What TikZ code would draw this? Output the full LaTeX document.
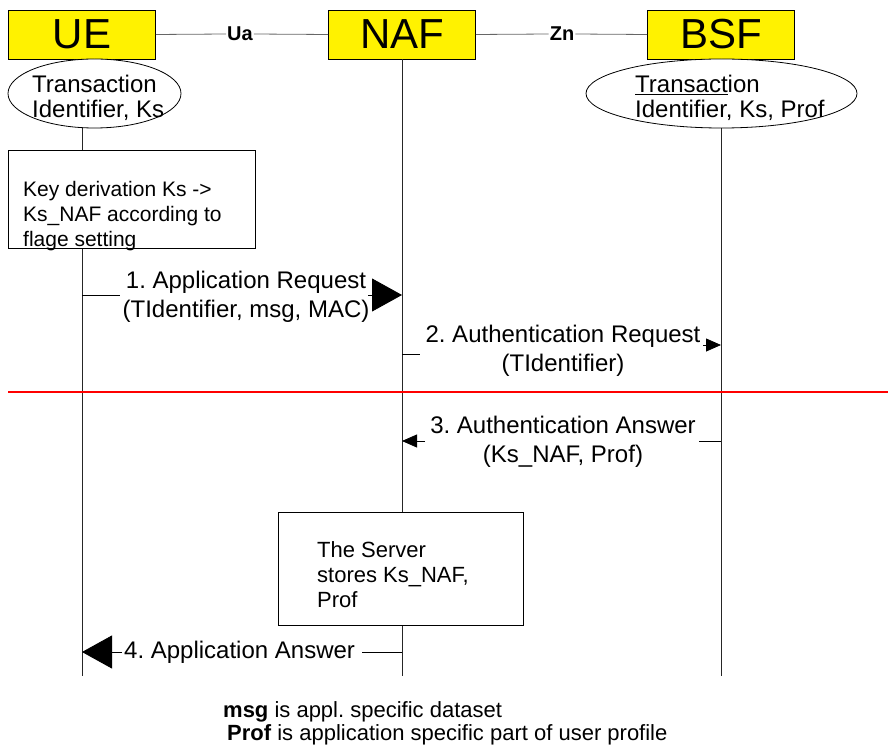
\documentclass[tikz,border=0pt]{standalone}
\usepackage{fontspec}
\setmainfont{Liberation Sans}
\usetikzlibrary{shapes.geometric,arrows.meta}
\frenchspacing
\begin{document}
\begin{tikzpicture}[x=1pt,y=-1pt,
 entity/.style={draw=black, fill=yellow, line width=0.8pt, minimum width=147pt, minimum height=49pt, inner sep=0pt, font=\fontsize{42}{42}\selectfont},
 life/.style={draw=black!85, line width=0.9pt},
 note/.style={draw=black, fill=white, line width=0.8pt},
 oval/.style={ellipse, draw=black, fill=white, line width=0.8pt, inner sep=0pt},
 txt/.style={inner sep=0pt, align=left, font=\fontsize{22}{25}\selectfont},
 ovaltxt/.style={inner sep=0pt, align=left, font=\fontsize{24}{25}\selectfont},
 msgtxt/.style={inner sep=0pt, align=center, font=\fontsize{24}{29.5}\selectfont},
 msgline/.style={draw=black, line width=0.8pt},
 bigtip/.style={-{Triangle[length=30pt,width=33pt]}},
 smalltip/.style={-{Triangle[length=15pt,width=13pt]}},
 iface/.style={inner sep=1pt, font=\bfseries\fontsize{20}{20}\selectfont},
 ifline/.style={draw=black!60, line width=0.8pt}
]
\useasboundingbox (0,0) rectangle (888,751);

% entities
\node[entity] (ue) at (82,34.5) {UE};
\node[entity] (naf) at (402,34.5) {NAF};
\node[entity] (bsf) at (721,34.5) {BSF};

% interfaces
\node[iface] (ua) at (240,34) {Ua};
\node[iface] (zn) at (562,34) {Zn};
\draw[ifline] (ue.east) -- (ua.west);
\draw[ifline] (ua.east) -- (naf.west);
\draw[ifline] (naf.east) -- (zn.west);
\draw[ifline] (zn.east) -- (bsf.west);

% lifeline ends
\coordinate (ueend) at (82,676);
\coordinate (nafend) at (402,676);
\coordinate (bsfend) at (721,676);
\draw[life] (ue.south) -- (ueend);
\draw[life] (naf.south) -- (nafend);
\draw[life] (bsf.south) -- (bsfend);

% ellipses
\node[oval, minimum width=173pt, minimum height=69pt] (uek) at (94.5,93.5) {};
\node[ovaltxt, anchor=base west] (uekt) at (32,118) {Transaction\\Identifier, Ks};
\node[oval, minimum width=271pt, minimum height=69pt] (bsfk) at (721.5,93.5) {};
\node[ovaltxt, anchor=base west] (bsfkt) at (635,118) {\underline{Transact}ion\\Identifier, Ks, Prof};

% key derivation box
\node[note, minimum width=247pt, minimum height=98pt, inner sep=0pt] (kd) at (131.5,199) {};
\node[txt, anchor=base west, font=\fontsize{21}{25}\selectfont] (kdt) at (23,247) {Key derivation Ks ->\\Ks\_NAF according to\\flage setting};

% message 1
\coordinate (m1a) at (82,295);
\coordinate (m1b) at (120,295);
\coordinate (m1c) at (368,295);
\coordinate (m1d) at (402,295);
\draw[msgline] (m1a) -- (m1b);
\draw[msgline, bigtip] (m1c) -- (m1d);
\node[msgtxt, anchor=base] (m1t) at (246,317.5) {1. Application Request\\(TIdentifier, msg, MAC)};

% message 2
\coordinate (m2a) at (402,354);
\coordinate (m2b) at (420,354);
\coordinate (m2c) at (703,345);
\coordinate (m2d) at (721,345);
\draw[msgline] (m2a) -- (m2b);
\draw[msgline, smalltip] (m2c) -- (m2d);
\node[msgtxt, anchor=base] (m2t) at (563,371.5) {2. Authentication Request\\(TIdentifier)};

% red separator
\coordinate (sepl) at (8,392);
\coordinate (sepr) at (888,392);
\draw[red, line width=1.8pt] (sepl) -- (sepr);

% message 3
\coordinate (m3a) at (721,441);
\coordinate (m3b) at (699,441);
\coordinate (m3c) at (425,441);
\coordinate (m3d) at (402,441);
\draw[msgline] (m3a) -- (m3b);
\draw[msgline, smalltip] (m3c) -- (m3d);
\node[msgtxt, anchor=base] (m3t) at (563,462.5) {3. Authentication Answer\\(Ks\_NAF, Prof)};

% server box
\node[note, minimum width=245pt, minimum height=113pt, inner sep=0pt] (srv) at (400.5,568.5) {};
\node[txt, anchor=base west] (srvt) at (317,607) {The Server\\stores Ks\_NAF,\\Prof};

% message 4
\coordinate (m4a) at (402,652);
\coordinate (m4b) at (362,652);
\coordinate (m4c) at (122,652);
\coordinate (m4d) at (82,652);
\draw[msgline] (m4a) -- (m4b);
\draw[msgline, bigtip] (m4c) -- (m4d);
\node[msgtxt, anchor=base west] (m4t) at (124,658) {4. Application Answer};

% footnote
\node[txt, anchor=base west, font=\fontsize{22}{23}\selectfont] (foot) at (223,740) {\textbf{msg} is appl. specific dataset\\\hspace*{4pt}\textbf{Prof} is application specific part of user profile};
\end{tikzpicture}
\end{document}
